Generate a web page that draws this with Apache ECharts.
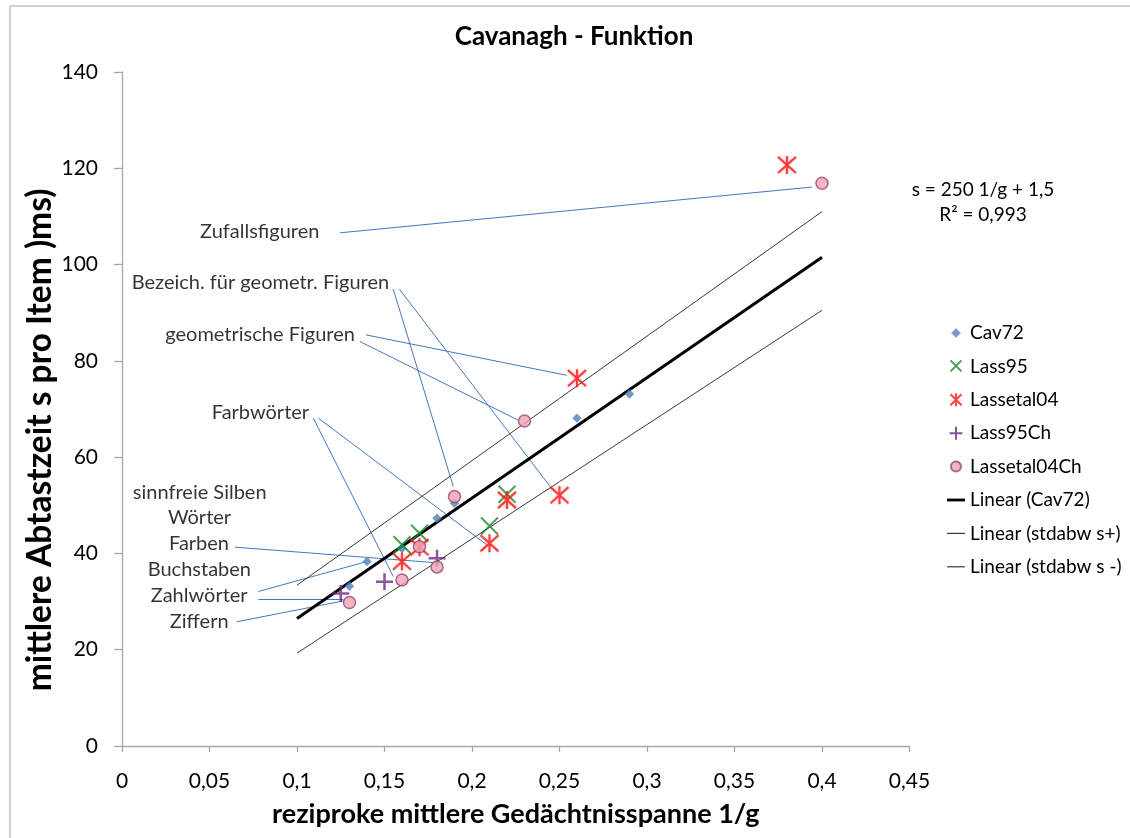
<!DOCTYPE html>
<html>
<head>
<meta charset="utf-8">
<script src="https://cdn.jsdelivr.net/npm/echarts@6/dist/echarts.min.js"></script>
<style>
html,body{margin:0;padding:0;background:#fff;}
#chart{width:1130px;height:838px;}
</style>
</head>
<body>
<div id="chart"></div>
<script>
// ---- data ----
const xTickLabels = ['0','0,05','0,1','0,15','0,2','0,25','0,3','0,35','0,4','0,45'];
const yTickLabels = ['0','20','40','60','80','100','120','140'];

const cav72 = [[0.13,33.2],[0.14,38.3],[0.16,41.0],[0.18,47.3],[0.19,50.4],[0.26,68.1],[0.29,73.1]];
const lass95 = [[0.16,41.8],[0.17,44.2],[0.21,45.7],[0.22,52.3]];
const lassetal04 = [[0.16,38.3],[0.17,41.3],[0.21,42.1],[0.22,51.1],[0.25,52.1],[0.26,76.4],[0.38,120.7]];
const lass95Ch = [[0.125,31.7],[0.15,34.1],[0.18,39.0]];
const lassetal04Ch = [[0.13,29.8],[0.16,34.5],[0.17,41.4],[0.18,37.2],[0.19,51.8],[0.23,67.5],[0.40,116.9]];

const trendCav72 = [[0.1,26.5],[0.4,101.5]];
const trendSPlus = [[0.1,33.4],[0.4,111.0]];
const trendSMinus = [[0.1,19.3],[0.4,90.5]];

const annotLabels = ['Zufallsfiguren','Bezeich. für geometr. Figuren','geometrische Figuren','Farbwörter',
  'sinnfreie Silben','Wörter','Farben','Buchstaben','Zahlwörter','Ziffern'];
const annotAnchors = [[0.0787,106.8],[0.0791,96.2],[0.0789,85.4],[0.0791,69.3],
  [0.0444,52.7],[0.0443,47.4],[0.044,42.0],[0.0442,36.7],[0.0441,31.2],[0.0441,25.8]];
const leaderFrom = [[0.1246,106.6],[0.155,94.9],[0.1585,94.9],[0.1394,85.4],[0.136,84.0],
  [0.1093,68.1],[0.1122,68.1],[0.0646,41.3],[0.0779,32.1],[0.0779,30.5],[0.0655,25.8]];
const leaderTo = [[0.3943,116.1],[0.1893,53.9],[0.2455,53.5],[0.2541,77.0],[0.2263,67.7],
  [0.155,35.2],[0.2084,41.8],[0.1779,38.1],[0.1398,38.3],[0.1263,30.5],[0.1274,30.2]];

const equationLines = ['s = 250 1/g + 1,5','R² = 0,993'];
const seriesNames = ['Cav72','Lass95','Lassetal04','Lass95Ch','Lassetal04Ch','Linear (Cav72)','Linear (stdabw s+)','Linear (stdabw s -)'];

// ---- chart ----
const FONT = 'Lato';
const chart = echarts.init(document.getElementById('chart'), null, {renderer:'canvas'});

const XPATH = 'path://M0,0L10,10M10,0L0,10';
const STARPATH = 'path://M5,0L5,10M0.5,0.5L9.5,9.5M9.5,0.5L0.5,9.5';
const PLUSPATH = 'path://M5,0L5,10M0,5L10,5';
// legend icons padded to the legend box
const L_DIAMOND = 'path://M0,0M18,14M9,3.5L12.5,7L9,10.5L5.5,7Z';
const L_X = 'path://M0,0M18,14M3.5,1L14.5,12M14.5,1L3.5,12';
const L_STAR = 'path://M0,0M18,14M9,0.5L9,13.5M3.5,1.5L14.5,12.5M14.5,1.5L3.5,12.5';
const L_PLUS = 'path://M0,0M18,14M9,0.5L9,13.5M2.5,7L15.5,7';
const L_CIRCLE = 'path://M0,0M18,14M9,2A5,5 0 1 1 8.99,2Z';
const L_THICK = 'path://M0,0M18,14M0,5.6L18,5.6L18,8.4L0,8.4Z';
const L_THIN = 'path://M0,0M18,14M0,6.4L18,6.4L18,7.6L0,7.6Z';

const leaderData = leaderFrom.map((p,i)=>({coords:[p, leaderTo[i]]}));
const annotData = annotAnchors.map((p,i)=>({name:annotLabels[i], value:p}));

const option = {
  animation:false,
  backgroundColor:'#fff',
  textStyle:{fontFamily:FONT},
  grid:{left:122, right:220.5, top:72, bottom:92, containLabel:false},
  xAxis:{
    type:'value', min:0, max:0.45, interval:0.05,
    name:'reziproke mittlere Gedächtnisspanne 1/g',
    nameLocation:'middle', nameGap:55,
    nameTextStyle:{fontFamily:FONT, fontWeight:'bold', fontSize:27, color:'#000'},
    axisLine:{show:true, lineStyle:{color:'#a6a6a6', width:1.3}},
    axisTick:{show:true, inside:false, length:6, lineStyle:{color:'#a6a6a6', width:1.3}},
    splitLine:{show:false},
    axisLabel:{fontFamily:FONT, fontSize:21, color:'#000', margin:25,
      formatter:(v)=>xTickLabels[Math.round(v/0.05)]}
  },
  yAxis:{
    type:'value', min:0, max:140, interval:20,
    axisLine:{show:true, lineStyle:{color:'#a6a6a6', width:1.3}},
    axisTick:{show:true, inside:false, length:8, lineStyle:{color:'#a6a6a6', width:1.3}},
    splitLine:{show:false},
    axisLabel:{fontFamily:FONT, fontSize:21, color:'#000', margin:24,
      formatter:(v)=>yTickLabels[Math.round(v/20)]}
  },
  legend:{
    orient:'vertical', left:941, top:318, itemGap:13.4, itemWidth:18, itemHeight:14,
    textStyle:{fontFamily:FONT, fontSize:19, color:'#000', lineHeight:20},
    data:[
      {name:seriesNames[0], icon:L_DIAMOND},
      {name:seriesNames[1], icon:L_X},
      {name:seriesNames[2], icon:L_STAR},
      {name:seriesNames[3], icon:L_PLUS},
      {name:seriesNames[4], icon:L_CIRCLE},
      {name:seriesNames[5], icon:L_THICK},
      {name:seriesNames[6], icon:L_THIN},
      {name:seriesNames[7], icon:L_THIN}
    ],
    selectedMode:false
  },
  graphic:[
    {type:'rect', z:-10, silent:true, shape:{x:10, y:6, width:1200, height:900},
      style:{fill:'none', stroke:'#c4c4c4', lineWidth:1.5}},
    {type:'text', x:574, y:37, silent:true,
      style:{text:'Cavanagh - Funktion', fill:'#000', font:'bold 26px '+FONT, textAlign:'center', textVerticalAlign:'middle'}},
    {type:'text', x:40, y:440, rotation:Math.PI/2, silent:true,
      style:{text:'mittlere Abtastzeit s pro Item )ms)', fill:'#000', font:'bold 33.5px '+FONT, textAlign:'center', textVerticalAlign:'middle'}},
    {type:'text', x:983, y:190, silent:true,
      style:{text:equationLines[0], fill:'#000', font:'19px '+FONT, textAlign:'center', textVerticalAlign:'middle'}},
    {type:'text', x:983, y:215, silent:true,
      style:{text:equationLines[1], fill:'#000', font:'19px '+FONT, textAlign:'center', textVerticalAlign:'middle'}}
  ],
  series:[
    {name:'leaders', type:'lines', coordinateSystem:'cartesian2d', polyline:false, silent:true, z:1,
      data:leaderData, lineStyle:{color:'#4478c0', width:1, opacity:1}},
    {name:'annot', type:'scatter', symbol:'circle', symbolSize:1, silent:true, z:1,
      itemStyle:{color:'rgba(0,0,0,0)'},
      label:{show:true, position:'inside', formatter:(p)=>p.name, fontFamily:FONT, fontSize:20, color:'#000'},
      data:annotData},
    {name:seriesNames[6], type:'line', data:trendSPlus, symbol:'none', showSymbol:false, z:2,
      lineStyle:{color:'#3a3a3a', width:1}, itemStyle:{color:'#3a3a3a'}},
    {name:seriesNames[7], type:'line', data:trendSMinus, symbol:'none', showSymbol:false, z:2,
      lineStyle:{color:'#3a3a3a', width:1}, itemStyle:{color:'#3a3a3a'}},
    {name:seriesNames[5], type:'line', data:trendCav72, symbol:'none', showSymbol:false, z:2,
      lineStyle:{color:'#000', width:3}, itemStyle:{color:'#000'}},
    {name:seriesNames[0], type:'scatter', data:cav72, symbol:'diamond', symbolSize:9, z:3,
      itemStyle:{color:'#4f81bd', borderColor:'#7095c8', borderWidth:0.5}},
    {name:seriesNames[1], type:'scatter', data:lass95, symbol:XPATH, symbolSize:17, z:3,
      itemStyle:{color:'#178c28', borderColor:'#178c28', borderWidth:2}},
    {name:seriesNames[2], type:'scatter', data:lassetal04, symbol:STARPATH, symbolSize:18, z:4,
      itemStyle:{color:'#ff1414', borderColor:'#ff1414', borderWidth:2.2, shadowBlur:3, shadowColor:'rgba(255,80,80,0.35)'}},
    {name:seriesNames[3], type:'scatter', data:lass95Ch, symbol:PLUSPATH, symbolSize:17, z:4,
      itemStyle:{color:'#6b2a85', borderColor:'#6b2a85', borderWidth:2.5}},
    {name:seriesNames[4], type:'scatter', data:lassetal04Ch, symbol:'circle', symbolSize:12, z:4,
      itemStyle:{color:'#f0a3b3', borderColor:'#934a78', borderWidth:1.5}}
  ]
};
chart.setOption(option);
</script>
</body>
</html>
